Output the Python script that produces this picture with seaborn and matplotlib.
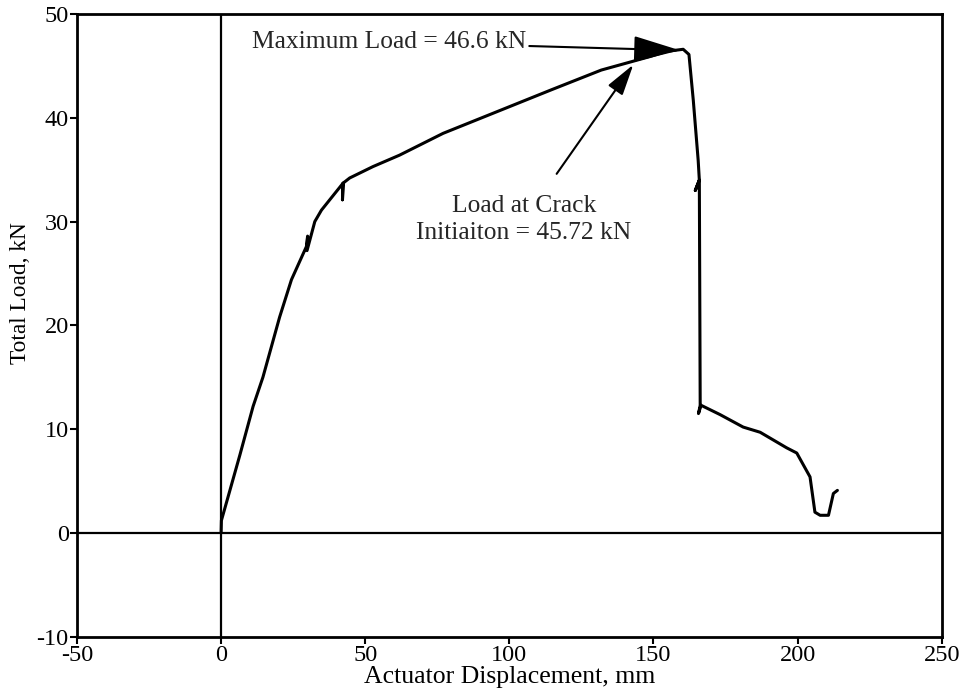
import numpy as np
import pandas as pd
import matplotlib
matplotlib.use("Agg")
import matplotlib.pyplot as plt
import seaborn as sns

# Load-displacement record of the specimen (mm, kN)
displacement = [0.0, 0.1, 6.5, 11.1, 14.5, 20.3, 24.4, 29.6, 30.0, 29.8, 32.5, 34.8,
                42.3, 42.1, 42.3, 44.6, 52.7, 61.9, 77.0, 96.7, 114.6, 131.9,
                148.8, 154.6, 160.3, 162.3, 163.8, 165.5, 165.9, 164.5, 165.9,
                166.2, 165.6, 166.5, 173.1, 181.1, 187.0, 196.2, 199.7, 204.3,
                206.0, 207.8, 210.7, 212.4, 213.8]
load = [0.0, 1.2, 7.5, 12.2, 15.0, 20.8, 24.4, 27.6, 28.6, 27.2, 30.0, 31.1,
        33.7, 32.1, 33.7, 34.2, 35.3, 36.4, 38.5, 40.7, 42.7, 44.6,
        45.9, 46.4, 46.6, 46.1, 41.7, 35.9, 34.0, 33.0, 34.0,
        12.3, 11.5, 12.3, 11.4, 10.2, 9.7, 8.2, 7.7, 5.4,
        2.0, 1.7, 1.7, 3.8, 4.1]

max_load = 46.6
crack_load = 45.72
max_label = "Maximum Load = 46.6 kN"
crack_label = "Load at Crack\nInitiaiton = 45.72 kN"

x_ticks = [-50, 0, 50, 100, 150, 200, 250]
y_ticks = [-10, 0, 10, 20, 30, 40, 50]

df = pd.DataFrame({"Actuator Displacement, mm": displacement,
                   "Total Load, kN": load})

sns.set_theme(style="ticks")
plt.rcParams["font.family"] = ["Liberation Serif", "DejaVu Serif"]
plt.rcParams["axes.unicode_minus"] = False

fig = plt.figure(figsize=(9.66, 7.0), dpi=100)
ax = fig.add_axes([0.0797, 0.0904, 0.8952, 0.8896])

ax.axhline(0, color="black", lw=1.6, zorder=1)
ax.axvline(0, color="black", lw=1.6, zorder=1)

sns.lineplot(data=df, x="Actuator Displacement, mm", y="Total Load, kN",
             sort=False, estimator=None, color="black", lw=2.2, ax=ax, zorder=3)

ax.set_xlim(-50, 250)
ax.set_ylim(-10, 50)
ax.set_xticks(x_ticks)
ax.set_yticks(y_ticks)
ax.tick_params(direction="out", length=5, width=1.5, labelsize=17.5, pad=1,
               colors="black")
for s in ax.spines.values():
    s.set_visible(True)
    s.set_linewidth(2.0)
    s.set_color("black")

ax.set_xlabel("Actuator Displacement, mm", fontsize=18.5, labelpad=0, color="black")
ax.set_ylabel("Total Load, kN", fontsize=16.8, color="black")
ax.yaxis.set_label_coords(-0.0535, 0.552)

arrow_style = dict(arrowstyle="-|>,head_length=1.6,head_width=0.45",
                   color="black", lw=1.5, shrinkA=0, shrinkB=0)

ax.annotate(max_label, xy=(159.2, max_load - 0.1), xytext=(58.2, 47.3),
            fontsize=18.4, ha="center", va="center", arrowprops=arrow_style)
ax.annotate("", xy=(143.0, crack_load - 0.6), xytext=(116.4, 34.6),
            arrowprops=arrow_style)
ax.text(105.0, 30.2, crack_label, fontsize=18.4, ha="center", va="center",
        linespacing=1.25)

fig.savefig("out.png", dpi=100, facecolor="white")
